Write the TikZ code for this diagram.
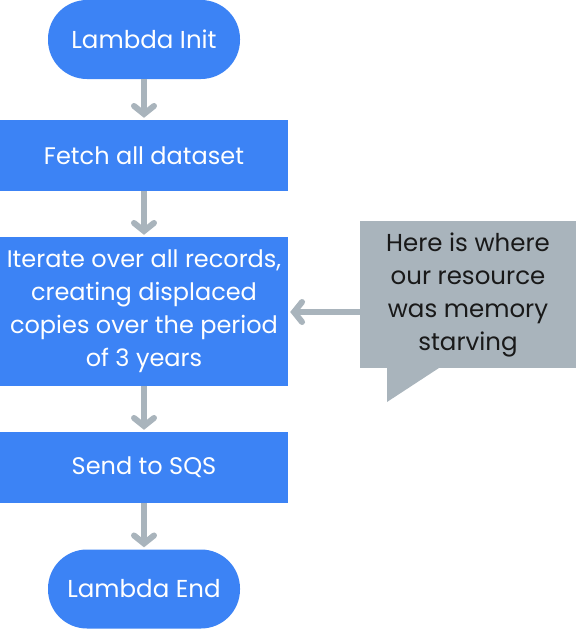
\documentclass[tikz,border=0pt]{standalone}
\usepackage{fontspec}
\setmainfont{Poppins}
\usetikzlibrary{arrows.meta}
\definecolor{boxblue}{RGB}{60,131,245}
\definecolor{arrgray}{RGB}{169,180,188}
\definecolor{notegray}{RGB}{169,180,188}
\definecolor{notetext}{RGB}{25,25,25}
\tikzset{
  stepbox/.style={rectangle, fill=boxblue, text=white, inner sep=0pt, minimum width=288pt, align=center, font=\fontsize{24}{33}\selectfont},
  termbox/.style={rectangle, rounded corners=39pt, fill=boxblue, text=white, inner sep=0pt, minimum width=192pt, minimum height=79pt, font=\fontsize{24.5}{33}\selectfont},
  notebox/.style={rectangle, fill=notegray, text=notetext, inner sep=0pt, minimum width=216pt, minimum height=147pt, align=center, font=\fontsize{24.5}{33}\selectfont},
  flow/.style={draw=arrgray, line width=6pt, -{Straight Barb[length=8pt,width=20pt,line cap=round]}, shorten >=2pt}
}
\begin{document}
\begin{tikzpicture}[x=1pt,y=-1pt]
\useasboundingbox (0,0) rectangle (576,630);
\node[termbox] (init) at (144,39.5) {Lambda Init};
\node[stepbox, minimum height=71pt] (fetch) at (144,155.5) {Fetch all dataset};
\node[stepbox, minimum height=149pt] (iter) at (144,311.5) {Iterate over all records,\\creating displaced\\copies over the period\\of 3 years};
\node[stepbox, minimum height=71pt] (sqs) at (144,467.5) {Send to SQS};
\node[termbox] (endn) at (144,589) {Lambda End};
\fill[notegray] (387,366) -- (387,402) -- (442,366) -- cycle;
\node[notebox] (note) at (468,294.5) {Here is where\\our resource\\was memory\\starving};
\draw[flow] (init) -- (fetch);
\draw[flow] (fetch) -- (iter);
\draw[flow] (iter) -- (sqs);
\draw[flow] (sqs) -- (endn);
\draw[flow] (note.west |- 0,312) -- (iter.east |- 0,312);
\end{tikzpicture}
\end{document}
